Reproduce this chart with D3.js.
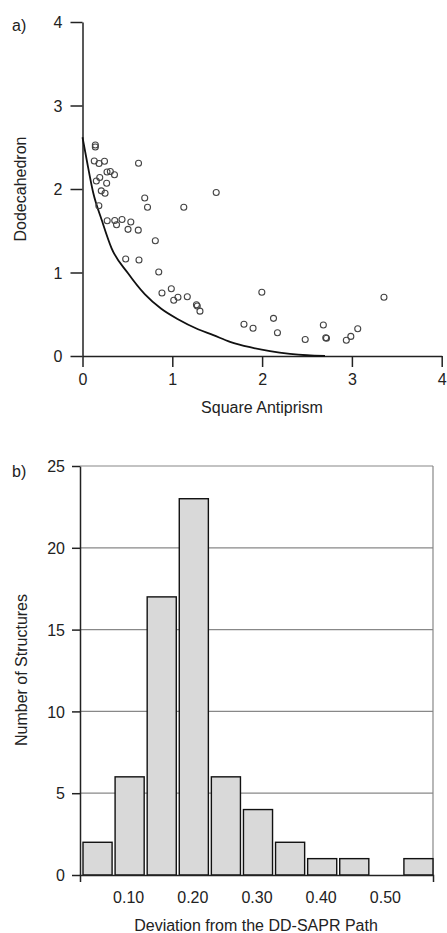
<!DOCTYPE html>
<html>
<head>
<meta charset="utf-8">
<script src="https://cdn.jsdelivr.net/npm/d3@7"></script>
<style>
  body { margin: 0; background: #fff; }
  svg { display: block; font-family: "Liberation Sans", Arial, sans-serif; }
  .axis text { font-size: 16px; fill: #222; }
  .axis path, .axis line { stroke: #222; stroke-width: 1.5; }
</style>
</head>
<body>
<svg width="447" height="933"></svg>
<script>
// panel a) scatter, square antiprism vs dodecahedron
const saprX = [0.143, 0.143, 0.131, 0.184, 0.245, 0.624, 0.273, 0.310, 0.356, 0.154,
               0.192, 0.269, 0.209, 0.251, 0.693, 0.724, 1.128, 1.489, 0.182, 0.275,
               0.359, 0.379, 0.440, 0.538, 0.507, 0.621, 0.811, 0.481, 0.629, 0.849,
               0.885, 0.989, 1.016, 1.063, 1.167, 1.269, 1.278, 1.308, 1.997, 1.798,
               1.899, 2.127, 2.171, 2.480, 2.682, 2.709, 2.717, 2.938, 2.988, 3.065,
               3.357];
const ddY   = [2.527, 2.503, 2.335, 2.305, 2.332, 2.308, 2.204, 2.210, 2.171, 2.096,
               2.138, 2.068, 1.978, 1.950, 1.892, 1.782, 1.782, 1.958, 1.799, 1.620,
               1.623, 1.572, 1.635, 1.605, 1.517, 1.507, 1.381, 1.162, 1.150, 1.006,
               0.754, 0.806, 0.667, 0.703, 0.710, 0.613, 0.599, 0.537, 0.763, 0.380,
               0.332, 0.451, 0.278, 0.198, 0.371, 0.218, 0.213, 0.189, 0.235, 0.327,
               0.704];

// minimal distortion path
const pathX = [0, 0.047, 0.120, 0.214, 0.323, 0.507, 0.693, 0.877, 1.063, 1.286, 1.457, 1.643, 1.866, 2.088, 2.311, 2.5, 2.7];
const pathY = [2.62, 2.347, 1.952, 1.629, 1.293, 0.990, 0.740, 0.565, 0.440, 0.320, 0.250, 0.170, 0.105, 0.058, 0.026, 0.009, 0];

const aTicks = [0, 1, 2, 3, 4];

// panel b) histogram
const binCenters = [0.05, 0.10, 0.15, 0.20, 0.25, 0.30, 0.35, 0.40, 0.45, 0.50, 0.55];
const counts     = [2, 6, 17, 23, 6, 4, 2, 1, 1, 0, 1];
const bXTicks = [0.10, 0.20, 0.30, 0.40, 0.50];
const bYTicks = [0, 5, 10, 15, 20, 25];

const svg = d3.select("svg");

// ---------- a) ----------
const xa = d3.scaleLinear().domain([0, 4]).range([82.5, 441.7]);
const ya = d3.scaleLinear().domain([0, 4]).range([356, 22]);

svg.append("text").attr("x", 12).attr("y", 31).attr("font-size", 16).attr("fill", "#222").text("a)");

svg.append("g").attr("class", "axis")
   .attr("transform", "translate(" + xa(0) + ",0)")
   .call(d3.axisLeft(ya).tickValues(aTicks).tickFormat(d3.format("d"))
         .tickSize(12).tickSizeOuter(0).tickPadding(8))
   .selectAll("text").attr("dy", "0.35em");

svg.append("g").attr("class", "axis")
   .attr("transform", "translate(0," + ya(0) + ")")
   .call(d3.axisBottom(xa).tickValues(aTicks).tickFormat(d3.format("d"))
         .tickSize(11).tickSizeOuter(0).tickPadding(7));

svg.append("text").attr("x", 262).attr("y", 413).attr("text-anchor", "middle")
   .attr("font-size", 16).attr("fill", "#222").text("Square Antiprism");

svg.append("text").attr("transform", "translate(26,189) rotate(-90)")
   .attr("text-anchor", "middle").attr("font-size", 16).attr("fill", "#222").text("Dodecahedron");

const pathPts = pathX.map((x, i) => [x, pathY[i]]);
svg.append("path")
   .attr("d", d3.line().x(d => xa(d[0])).y(d => ya(d[1])).curve(d3.curveMonotoneX)(pathPts))
   .attr("fill", "none").attr("stroke", "#111").attr("stroke-width", 1.8);

svg.append("g").selectAll("circle")
   .data(saprX.map((x, i) => [x, ddY[i]]))
   .join("circle")
   .attr("cx", d => xa(d[0]))
   .attr("cy", d => ya(d[1]))
   .attr("r", 3)
   .attr("fill", "none")
   .attr("stroke", "#444")
   .attr("stroke-width", 1.1);

// ---------- b) ----------
const xb = d3.scaleLinear().domain([0.025, 0.575]).range([80, 433]);
const yb = d3.scaleLinear().domain([0, 25]).range([875, 466]);

svg.append("text").attr("x", 12).attr("y", 477).attr("font-size", 16).attr("fill", "#222").text("b)");

// grid
svg.append("g").selectAll("line")
   .data(bYTicks.filter(d => d > 0))
   .join("line")
   .attr("x1", xb.range()[0]).attr("x2", xb.range()[1])
   .attr("y1", d => yb(d)).attr("y2", d => yb(d))
   .attr("stroke", "#888").attr("stroke-width", 1.2);
svg.append("line")
   .attr("x1", xb.range()[1]).attr("x2", xb.range()[1])
   .attr("y1", yb(25)).attr("y2", yb(0))
   .attr("stroke", "#888").attr("stroke-width", 1.2);

const bw = xb(0.05) - xb(0);
svg.append("g").selectAll("rect")
   .data(binCenters.map((c, i) => ({c: c, n: counts[i]})).filter(d => d.n > 0))
   .join("rect")
   .attr("x", d => xb(d.c - 0.025) + 3)
   .attr("y", d => yb(d.n))
   .attr("width", bw - 3)
   .attr("height", d => yb(0) - yb(d.n))
   .attr("fill", "#d9d9d9")
   .attr("stroke", "#111")
   .attr("stroke-width", 1.4);

svg.append("g").attr("class", "axis")
   .attr("transform", "translate(" + xb.range()[0] + ",0)")
   .call(d3.axisLeft(yb).tickValues(bYTicks).tickSize(8).tickSizeOuter(0).tickPadding(7))
   .selectAll("text").attr("dy", "0.35em");

svg.append("g").attr("class", "axis")
   .attr("transform", "translate(0," + yb(0) + ")")
   .call(d3.axisBottom(xb).tickValues(bXTicks).tickFormat(d3.format(".2f"))
         .tickSizeInner(0).tickSizeOuter(7).tickPadding(17));

svg.append("text").attr("x", 256).attr("y", 931).attr("text-anchor", "middle")
   .attr("font-size", 16).attr("fill", "#222").text("Deviation from the DD-SAPR Path");

svg.append("text").attr("transform", "translate(27,670) rotate(-90)")
   .attr("text-anchor", "middle").attr("font-size", 16).attr("fill", "#222").text("Number of Structures");
</script>
</body>
</html>
